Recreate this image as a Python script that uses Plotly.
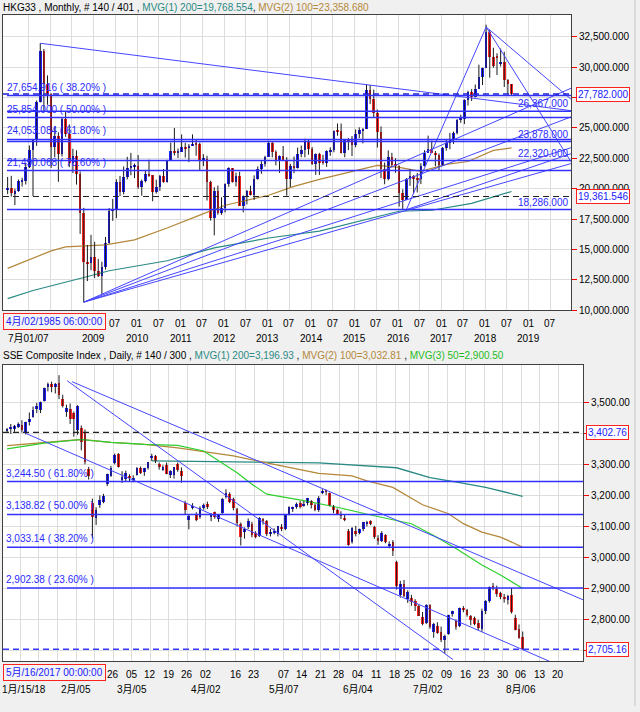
import plotly.graph_objects as go

W, H = 640, 712
FONT = "Liberation Sans, Arial, Noto Sans CJK SC, sans-serif"

UP_C = "#1e1eff"
DN_C = "#ff2424"
WICK_C = "#1a1a1a"
HLINE_C = "#3030ff"
DIAG_C = "#4646ff"
TEAL = "#2a8a84"
BROWN = "#b4873a"
GREEN = "#2fcf2f"
GRID = "#dddddd"
BORDER = "#404040"

# ================= TOP: HKG33 monthly, Jan 2007 .. Aug 2018 (index 0..139) =================
hk_open = [
    19965, 20107, 19652, 19801, 20619, 20635, 21773, 23185, 23984, 27143, 31352, 28643,
    27813, 23456, 24332, 22849, 25756, 24533, 22102, 22731, 21262, 18016, 13969, 13888,
    14387, 13278, 12812, 13576, 15521, 18171, 18379, 20573, 19724, 20955, 21753, 21822,
    21873, 20122, 20609, 21239, 21108, 19765, 20129, 21030, 20537, 22359, 23096, 23008,
    23035, 23447, 23338, 23528, 23721, 23684, 22398, 22440, 20535, 17592, 19864, 17989,
    18434, 20390, 21680, 20556, 21094, 18630, 19441, 19796, 19482, 20840, 21642, 22030,
    22657, 23730, 23020, 22300, 22737, 22392, 20803, 21883, 21731, 22860, 23206, 23881,
    23306, 22035, 22837, 22151, 22134, 23082, 23191, 24757, 24742, 22933, 23998, 23987,
    23605, 24507, 24823, 24901, 28133, 27424, 26250, 24636, 21671, 20846, 22640, 21996,
    21914, 19683, 19112, 20777, 21067, 20815, 20794, 21891, 22977, 23297, 22935, 22790,
    22001, 23361, 23741, 24112, 24615, 25661, 25765, 27324, 27970, 27554, 28246, 29177,
    29919, 32887, 30845, 30950, 30300, 30469, 28955, 28583]
hk_high = [
    20971, 21058, 20000, 20754, 20906, 22085, 23557, 24000, 27254, 31958, 31480, 29316,
    27853, 25139, 24640, 25881, 26387, 25292, 23288, 23160, 21418, 18432, 15380, 16211,
    15633, 14230, 14000, 16034, 18414, 19161, 20780, 21051, 21829, 22620, 22943, 22066,
    22772, 20756, 21456, 22388, 21110, 20739, 21136, 21614, 22380, 23799, 24988, 23309,
    24468, 23776, 23670, 24469, 24020, 23797, 22836, 22708, 20660, 20123, 20258, 19297,
    20440, 21760, 21700, 21319, 21400, 19441, 19888, 20250, 21100, 21837, 22263, 22705,
    23944, 23871, 23159, 22737, 23512, 22597, 22047, 22645, 23383, 23549, 24111, 24038,
    23426, 22902, 22949, 22794, 23155, 23407, 24786, 25362, 25363, 24000, 24165, 24325,
    24876, 25045, 24978, 28588, 28524, 28146, 26506, 25117, 22151, 23150, 22955, 22502,
    21915, 19954, 20880, 21622, 21118, 21297, 22102, 23162, 24364, 23952, 23100, 22900,
    23433, 24072, 24593, 24702, 25722, 26090, 27354, 28052, 28189, 28571, 30200, 29953,
    33484, 33055, 31594, 31135, 31522, 31260, 29005, 28600]
hk_low = [
    19557, 19355, 18659, 19745, 20171, 20350, 21704, 19386, 23523, 27088, 26387, 26906,
    21709, 22584, 20572, 22646, 24267, 21773, 21284, 20339, 16283, 10676, 12406, 13300,
    12662, 12742, 11345, 13356, 15500, 17361, 17578, 19396, 19538, 20764, 21108, 20876,
    19997, 19423, 20513, 20985, 18971, 19601, 19815, 20493, 20500, 22359, 22732, 22527,
    23035, 22560, 22185, 23528, 22704, 21508, 21858, 19034, 17381, 16170, 17866, 17856,
    18056, 20159, 20500, 20188, 18590, 18057, 18710, 19450, 19076, 20742, 21227, 21817,
    22657, 22585, 21928, 21301, 22350, 19426, 20145, 21278, 21660, 22589, 22586, 22797,
    21959, 21137, 21138, 21983, 21796, 22699, 22997, 24360, 22895, 22586, 23184, 22682,
    23409, 24148, 23723, 24901, 26955, 25894, 23383, 20865, 20368, 20687, 21820, 21317,
    18534, 18278, 19112, 20233, 19595, 19694, 20380, 21833, 22977, 22925, 21854, 21488,
    21884, 23128, 23244, 23686, 24475, 25421, 25310, 26836, 27216, 27520, 28219, 28524,
    29919, 29129, 29950, 29347, 30049, 28362, 27745, 27698]
hk_close = [
    20107, 19652, 19801, 20619, 20635, 21773, 23185, 23984, 27143, 31352, 28643, 27813,
    23456, 24332, 22849, 25756, 24533, 22102, 22731, 21262, 18016, 13969, 13888, 14387,
    13278, 12812, 13576, 15521, 18171, 18379, 20573, 19724, 20955, 21753, 21822, 21873,
    20122, 20609, 21239, 21108, 19765, 20129, 21030, 20537, 22359, 23096, 23008, 23035,
    23447, 23338, 23528, 23721, 23684, 22398, 22440, 20535, 17592, 19864, 17989, 18434,
    20390, 21680, 20556, 21094, 18630, 19441, 19796, 19482, 20840, 21642, 22030, 22657,
    23730, 23020, 22300, 22737, 22392, 20803, 21883, 21731, 22860, 23206, 23881, 23306,
    22035, 22837, 22151, 22134, 23082, 23191, 24757, 24742, 22933, 23998, 23987, 23605,
    24507, 24823, 24901, 28133, 27424, 26250, 24636, 21671, 20846, 22640, 21996, 21914,
    19683, 19112, 20777, 21067, 20815, 20794, 21891, 22977, 23297, 22935, 22790, 22001,
    23361, 23741, 24112, 24615, 25661, 25765, 27324, 27970, 27554, 28246, 29177, 29919,
    32887, 30845, 30093, 30808, 30469, 28955, 28583, 27782]

hk_ma200_idx = [0, 7, 21, 28, 44, 57, 72, 86, 108, 117, 128, 139]
hk_ma200_val = [10970, 11630, 12700, 13260, 14080, 15140, 15950, 16520, 18150, 18230, 18800, 19768.554]
hk_ma100_idx = [0, 5, 12, 16, 21, 27, 35, 44, 53, 60, 72, 79, 86, 102, 108, 114, 121, 127, 134, 139]
hk_ma100_val = [13450, 14075, 14890, 15215, 15300, 15380, 15790, 16770, 17830, 18640, 19460,
                20190, 20770, 21920, 21750, 21430, 22000, 22240, 23150, 23358.68]

hk_fib_levels = [27654.916, 25854.0, 24053.084, 21490.068]
hk_fib_labels = ["27,654.916 ( 38.20% )", "25,854.000 ( 50.00% )",
                 "24,053.084 ( 61.80% )", "21,490.068 ( 78.60% )"]
hk_levels = [26367.0, 23878.0, 22320.0, 18286.0]
hk_level_labels = ["26,367.000", "23,878.000", "22,320.000", "18,286.000"]
hk_last = 27782.0
hk_last_label = "27,782.000"
hk_cursor = 19361.546
hk_cursor_label = "19,361.546"

# trend lines: (start index, start value, end index, end value)
hk_tl_x0 = [9, 21, 21, 21, 21, 110, 110, 132, 132]
hk_tl_y0 = [31958, 10676, 10676, 10676, 10676, 18278, 18278, 33300, 33300]
hk_tl_x1 = [155.4, 155.4, 155.4, 155.4, 155.4, 132, 155.4, 155.4, 155.4]
hk_tl_y1 = [26420, 28260, 25900, 23370, 22065, 33300, 22880, 27364, 22230]

hk_yticks = [10000, 12500, 15000, 17500, 20000, 22500, 25000, 27500, 30000, 32500]
# 27,500 sits under the last-price box in the reference
hk_ytick_text = ["10,000.000", "12,500.000", "15,000.000", "17,500.000", "20,000.000",
                 "22,500.000", "25,000.000", "", "30,000.000", "32,500.000"]
hk_grid_idx = list(range(6, 151, 6))
hk_row1_idx = list(range(30, 151, 6))
hk_row1_lab = ["07" if (k % 2 == 0) else "01" for k in range(len(hk_row1_idx))]
hk_row2_idx = [6, 24, 36, 48, 60, 72, 84, 96, 108, 120, 132, 144]
hk_row2_lab = ["7月01/07", "2009", "2010", "2011", "2012", "2013", "2014", "2015",
               "2016", "2017", "2018", "2019"]

# ================= BOTTOM: SSE Composite daily, 2018-01-09 .. 2018-08-06 (index 0..139) =================
sse_open = [
    3407, 3414, 3415, 3423, 3428, 3402, 3437, 3452, 3478, 3474,
    3505, 3548, 3560, 3549, 3563, 3511, 3470, 3478, 3466, 3412,
    3418, 3405, 3285, 3176, 3128, 3170, 3180, 3238, 3262, 3305,
    3333, 3250, 3253, 3262, 3250, 3266, 3290, 3276, 3290, 3320,
    3327, 3300, 3285, 3297, 3267, 3265, 3300, 3280, 3177, 3120,
    3160, 3136, 3130, 3163, 3172, 3131, 3146, 3125, 3145, 3194,
    3204, 3188, 3157, 3110, 3082, 3099, 3108, 3080, 3071, 3125,
    3117, 3079, 3080, 3075, 3100, 3091, 3140, 3158, 3162, 3175,
    3167, 3176, 3182, 3170, 3154, 3210, 3215, 3207, 3164, 3152,
    3141, 3129, 3085, 3050, 3086, 3081, 3091, 3110, 3117, 3099,
    3062, 3053, 3072, 3040, 3050, 2987, 2880, 2915, 2868, 2870,
    2860, 2845, 2808, 2790, 2847, 2760, 2781, 2760, 2735, 2755,
    2818, 2795, 2779, 2839, 2832, 2811, 2805, 2790, 2770, 2827,
    2862, 2910, 2900, 2886, 2870, 2865, 2880, 2806, 2770, 2745]
sse_high = [
    3417, 3430, 3427, 3435, 3442, 3437, 3467, 3486, 3498, 3502,
    3547, 3563, 3566, 3562, 3587, 3524, 3492, 3496, 3470, 3490,
    3425, 3412, 3292, 3190, 3162, 3200, 3205, 3270, 3295, 3335,
    3336, 3278, 3280, 3268, 3265, 3291, 3293, 3289, 3308, 3334,
    3330, 3306, 3297, 3306, 3281, 3291, 3306, 3290, 3183, 3140,
    3175, 3146, 3165, 3174, 3180, 3143, 3148, 3140, 3192, 3220,
    3210, 3193, 3160, 3113, 3097, 3126, 3115, 3085, 3130, 3127,
    3121, 3092, 3094, 3102, 3108, 3137, 3165, 3164, 3177, 3182,
    3182, 3192, 3185, 3174, 3198, 3220, 3219, 3209, 3169, 3158,
    3149, 3137, 3092, 3098, 3102, 3093, 3115, 3118, 3120, 3102,
    3072, 3085, 3075, 3052, 3056, 2990, 2925, 2928, 2895, 2880,
    2866, 2850, 2825, 2850, 2850, 2790, 2792, 2778, 2752, 2816,
    2829, 2801, 2839, 2844, 2835, 2815, 2810, 2800, 2836, 2863,
    2907, 2918, 2910, 2890, 2883, 2880, 2902, 2816, 2785, 2762]
sse_low = [
    3402, 3398, 3405, 3417, 3402, 3396, 3425, 3450, 3465, 3465,
    3502, 3535, 3532, 3528, 3510, 3483, 3453, 3430, 3389, 3395,
    3345, 3300, 3251, 3062, 3105, 3160, 3175, 3230, 3260, 3300,
    3290, 3240, 3245, 3244, 3242, 3264, 3269, 3263, 3283, 3311,
    3304, 3283, 3279, 3268, 3256, 3254, 3276, 3241, 3140, 3091,
    3155, 3117, 3125, 3154, 3156, 3117, 3125, 3115, 3141, 3190,
    3175, 3152, 3100, 3039, 3061, 3092, 3065, 3062, 3066, 3106,
    3069, 3068, 3075, 3068, 3085, 3088, 3136, 3147, 3157, 3158,
    3164, 3168, 3158, 3149, 3147, 3204, 3201, 3165, 3143, 3138,
    3124, 3117, 3038, 3045, 3068, 3075, 3085, 3100, 3104, 3060,
    3041, 3050, 3046, 3030, 3005, 2897, 2871, 2873, 2854, 2845,
    2828, 2812, 2782, 2786, 2771, 2742, 2755, 2728, 2691, 2752,
    2810, 2768, 2776, 2824, 2810, 2782, 2782, 2766, 2761, 2818,
    2855, 2895, 2874, 2866, 2855, 2849, 2820, 2766, 2739, 2703]
sse_close = [
    3414, 3422, 3425, 3429, 3410, 3437, 3445, 3475, 3488, 3501,
    3547, 3559, 3548, 3558, 3523, 3488, 3481, 3447, 3445, 3487,
    3371, 3309, 3262, 3130, 3154, 3185, 3199, 3269, 3289, 3330,
    3292, 3259, 3274, 3255, 3257, 3290, 3272, 3288, 3307, 3327,
    3310, 3291, 3291, 3270, 3279, 3291, 3281, 3263, 3153, 3134,
    3167, 3122, 3161, 3169, 3163, 3137, 3131, 3138, 3190, 3208,
    3180, 3159, 3111, 3067, 3091, 3117, 3072, 3068, 3129, 3118,
    3075, 3082, 3081, 3101, 3091, 3137, 3162, 3159, 3174, 3163,
    3174, 3192, 3170, 3154, 3193, 3214, 3214, 3169, 3155, 3141,
    3135, 3120, 3041, 3095, 3075, 3091, 3114, 3115, 3110, 3067,
    3053, 3080, 3050, 3044, 3022, 2908, 2916, 2876, 2890, 2859,
    2845, 2813, 2787, 2847, 2776, 2787, 2759, 2734, 2747, 2815,
    2828, 2778, 2838, 2831, 2814, 2798, 2787, 2773, 2829, 2860,
    2906, 2904, 2882, 2874, 2869, 2876, 2825, 2768, 2740, 2705.16]

sse_ma200_idx = [39, 72, 84, 105, 114, 122, 129, 139]
sse_ma200_val = [3311, 3305, 3305, 3289, 3257, 3241, 3226, 3196.93]
sse_ma100_idx = [0, 20, 28, 37, 46, 61, 70, 79, 84, 93, 97, 104, 112, 119, 123, 128, 133, 136, 139]
sse_ma100_val = [3360, 3380, 3371, 3364, 3353, 3327, 3305, 3284, 3271, 3263, 3247, 3226, 3170,
                 3141, 3109, 3082, 3066, 3050, 3032.81]
sse_ma50_idx = [0, 10, 20, 28, 37, 46, 53, 57, 62, 66, 70, 80, 89, 98, 109, 115, 121, 128, 133, 139]
sse_ma50_val = [3350, 3368, 3380, 3371, 3364, 3361, 3343, 3311, 3273, 3236, 3204, 3183, 3162,
                3137, 3109, 3071, 3029, 2976, 2944, 2900.50]

sse_fib_levels = [3244.50, 3138.82, 3033.14, 2902.38]
sse_fib_labels = ["3,244.50 ( 61.80% )", "3,138.82 ( 50.00% )",
                  "3,033.14 ( 38.20% )", "2,902.38 ( 23.60% )"]
sse_last = 2705.16
sse_last_label = "2,705.16"
sse_cursor = 3402.76
sse_cursor_label = "3,402.76"

sse_tl_x0 = [17.5, 16.2, 4.8]
sse_tl_y0 = [3566, 3569, 3401]
sse_tl_x1 = [155.3, 120.2, 155.3]
sse_tl_y1 = [2864, 2672, 2619]

sse_yticks = [2700, 2800, 2900, 3000, 3100, 3200, 3300, 3400, 3500]
# 2,700 and 3,400 sit under the value boxes in the reference
sse_ytick_text = ["", "2,800.00", "2,900.00", "3,000.00", "3,100.00", "3,200.00", "3,300.00",
                  "", "3,500.00"]
sse_grid_idx = [4, 9, 14, 19, 24, 29, 34, 39, 44, 49, 54, 62, 67, 75, 80, 85, 90, 95, 100,
                105, 109, 114, 119, 124, 129, 134, 139, 144, 149]
sse_row1_idx = [29, 34, 39, 44, 49, 54, 62, 67, 75, 80, 85, 90, 95, 100, 105, 109, 114, 119,
                124, 129, 134, 139, 144, 149]
sse_row1_lab = ["26", "05", "12", "19", "26", "02", "16", "23", "07", "14", "21", "28", "04",
                "11", "18", "25", "02", "09", "16", "23", "30", "06", "13", "20"]
sse_row2_idx = [19, 34, 54, 75, 95, 114, 139]
sse_row2_lab = ["2月/05", "3月/05", "4月/02", "5月/07", "6月/04", "7月/02", "8月/06"]
sse_first_label = "1月/15/18"


def py(p):
    return (H - p) / H


def px(p):
    return p / W


fig = go.Figure()


def add_candles(o, h, l, c, xa, ya, min_h):
    xs = list(range(len(c)))
    wx, wy = [], []
    for i in xs:
        wx += [i, i, None]
        wy += [l[i], h[i], None]
    fig.add_trace(go.Scatter(x=wx, y=wy, mode="lines", line=dict(color=WICK_C, width=1),
                             xaxis=xa, yaxis=ya, hoverinfo="skip", showlegend=False))
    base = [min(a, b) for a, b in zip(o, c)]
    hgt = [max(abs(b - a), min_h) for a, b in zip(o, c)]
    col = [UP_C if b >= a else DN_C for a, b in zip(o, c)]
    fig.add_trace(go.Bar(x=xs, y=hgt, base=base, width=0.74,
                         marker=dict(color=col, line=dict(width=0)),
                         xaxis=xa, yaxis=ya, hoverinfo="skip", showlegend=False))


def add_line(xv, yv, color, xa, ya, width=1.2):
    fig.add_trace(go.Scatter(x=xv, y=yv, mode="lines", line=dict(color=color, width=width),
                             xaxis=xa, yaxis=ya, hoverinfo="skip", showlegend=False))


def add_trend(x0, y0, x1, y1, xa, ya):
    tx, ty = [], []
    for a, b, cc, d in zip(x0, y0, x1, y1):
        tx += [a, cc, None]
        ty += [b, d, None]
    fig.add_trace(go.Scatter(x=tx, y=ty, mode="lines", line=dict(color=DIAG_C, width=1),
                             xaxis=xa, yaxis=ya, hoverinfo="skip", showlegend=False))


# top panel traces
add_line(hk_ma200_idx, hk_ma200_val, TEAL, "x", "y")
add_line(hk_ma100_idx, hk_ma100_val, BROWN, "x", "y")
add_candles(hk_open, hk_high, hk_low, hk_close, "x", "y", 80)
add_trend(hk_tl_x0, hk_tl_y0, hk_tl_x1, hk_tl_y1, "x", "y")

# bottom panel traces
add_line(sse_ma200_idx, sse_ma200_val, TEAL, "x2", "y2", 1.3)
add_line(sse_ma100_idx, sse_ma100_val, BROWN, "x2", "y2", 1.3)
add_line(sse_ma50_idx, sse_ma50_val, GREEN, "x2", "y2", 1.2)
add_candles(sse_open, sse_high, sse_low, sse_close, "x2", "y2", 3)
add_trend(sse_tl_x0, sse_tl_y0, sse_tl_x1, sse_tl_y1, "x2", "y2")

shapes = []
annotations = []


def hline(xref, yref, v, color, width=1.5, dash=None, x0=0.007):
    ln = dict(color=color, width=width)
    if dash:
        ln["dash"] = dash
    shapes.append(dict(type="line", xref=xref + " domain", yref=yref, x0=x0, x1=1, y0=v, y1=v,
                       line=ln, layer="above"))


def text(t, x, y, xref="paper", yref="paper", xanchor="left", yanchor="middle", color="black",
         size=10, **kw):
    d = dict(text=t, x=x, y=y, xref=xref, yref=yref, xanchor=xanchor, yanchor=yanchor,
             showarrow=False, font=dict(family=FONT, size=size, color=color))
    d.update(kw)
    annotations.append(d)


# top horizontal lines
for v, lab in zip(hk_fib_levels, hk_fib_labels):
    hline("x", "y", v, HLINE_C)
    text(lab, px(5), v, yref="y", yanchor="bottom", color="#2a2aff", yshift=1)
for v, lab in zip(hk_levels, hk_level_labels):
    hline("x", "y", v, HLINE_C)
    text(lab, px(570), v, yref="y", xanchor="right", yanchor="bottom", color="#2a2aff", yshift=0)
hline("x", "y", hk_last, "#2020d0", 1.5, "6px,4px", 0.0)
hline("x", "y", hk_cursor, "#222222", 1.2, "6px,4px", 0.0)

# bottom horizontal lines
for v, lab in zip(sse_fib_levels, sse_fib_labels):
    hline("x2", "y2", v, HLINE_C)
    text(lab, px(4), v, yref="y2", yanchor="bottom", color="#2a2aff", yshift=1)
hline("x2", "y2", sse_last, "#3a3aff", 1.5, "6px,4px", 0.0)
hline("x2", "y2", sse_cursor, "#222222", 1.2, "6px,4px", 0.0)

# value boxes on the right
box = dict(bordercolor="#ff2020", borderwidth=1, bgcolor="#ffffff", borderpad=1)
text(hk_last_label, px(576), hk_last, yref="y", color="#2020ff", **box)
text(hk_cursor_label, px(576), hk_cursor, yref="y", color="#2020ff", **box)
text(sse_cursor_label, px(586), sse_cursor, yref="y2", color="#2020ff", **box)
text(sse_last_label, px(586), sse_last, yref="y2", color="#2020ff", **box)

# headers
text("HKG33 , Monthly, # 140 / 401 , <span style='color:%s'>MVG(1) 200=19,768.554</span>, "
     "<span style='color:%s'>MVG(2) 100=23,358.680</span>" % (TEAL, BROWN), px(1), py(7.5))
text("SSE Composite Index , Daily, # 140 / 300 , <span style='color:%s'>MVG(1) 200=3,196.93</span> , "
     "<span style='color:%s'>MVG(2) 100=3,032.81</span> , <span style='color:%s'>MVG(3) 50=2,900.50</span>"
     % (TEAL, BROWN, "#22bb22"), px(1), py(359))

# x labels, top
for i, lab in zip(hk_row1_idx, hk_row1_lab):
    text(lab, i - 0.3, py(326), xref="x", xanchor="center")
for i, lab in zip(hk_row2_idx, hk_row2_lab):
    text(lab, i - 0.3, py(341), xref="x", xanchor="center")
text("4月/02/1985 06:00:00", px(3), py(324.5), color="#2020ff",
     bordercolor="#ff2020", borderwidth=1, bgcolor="#f4f4f4", borderpad=2)

# x labels, bottom
for i, lab in zip(sse_row1_idx, sse_row1_lab):
    text(lab, i - 0.4, py(680), xref="x2", xanchor="center")
for i, lab in zip(sse_row2_idx, sse_row2_lab):
    text(lab, i - 0.4, py(695), xref="x2", xanchor="center")
text(sse_first_label, px(0), py(695), xanchor="left")
text("5月/16/2017 00:00:00", px(3), py(678.5), color="#2020ff",
     bordercolor="#ff2020", borderwidth=1, bgcolor="#f4f4f4", borderpad=2)

# right-side window strip
shapes.append(dict(type="line", xref="paper", yref="paper", x0=px(635), x1=px(635), y0=0, y1=1,
                   line=dict(color="#c4c4c4", width=1), layer="below"))

axis_common = dict(showgrid=True, gridcolor=GRID, gridwidth=1, zeroline=False, showline=True,
                   mirror=True, linecolor=BORDER, linewidth=1)

fig.update_layout(
    width=W, height=H, margin=dict(l=0, r=0, t=0, b=0),
    paper_bgcolor="#f0f0f0", plot_bgcolor="#ffffff",
    showlegend=False, barmode="overlay", bargap=0,
    font=dict(family=FONT, size=10, color="black"),
    xaxis=dict(domain=[px(3), px(571)], range=[-1.28, 155.41], anchor="y",
               tickvals=[i - 0.3 for i in hk_grid_idx], showticklabels=False, ticks="",
               **axis_common),
    yaxis=dict(domain=[py(313), py(15)], range=[10000, 34293], anchor="x", side="right",
               tickvals=hk_yticks, ticktext=hk_ytick_text, ticks="outside", ticklen=5,
               tickcolor="#ff0000", tickwidth=1,
               tickfont=dict(family=FONT, size=10, color="black"), **axis_common),
    xaxis2=dict(domain=[px(3), px(583)], range=[-1.1, 155.25], anchor="y2",
                tickvals=[i - 0.4 for i in sse_grid_idx], showticklabels=False, ticks="",
                **axis_common),
    yaxis2=dict(domain=[py(667), py(368)], range=[2666, 3620], anchor="x2", side="right",
                tickvals=sse_yticks, ticktext=sse_ytick_text, ticks="outside", ticklen=5,
                tickcolor="#ff0000", tickwidth=1,
                tickfont=dict(family=FONT, size=10, color="black"), **axis_common),
    shapes=shapes,
    annotations=annotations,
)

fig.write_html("out.html")
